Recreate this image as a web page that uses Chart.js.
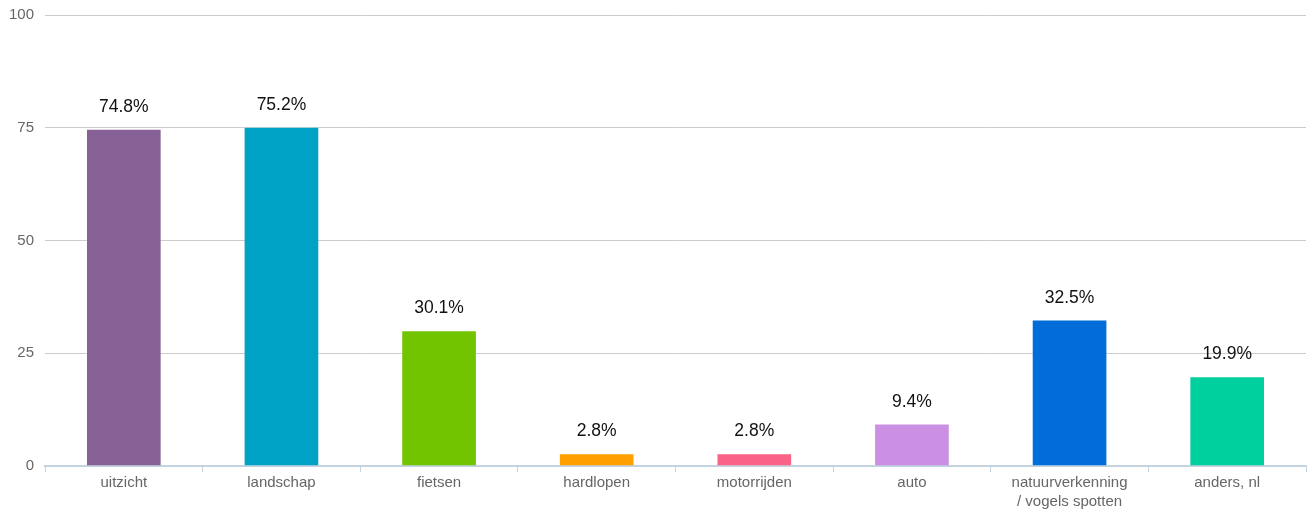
<!DOCTYPE html>
<html lang="nl">
<head>
  <meta charset="UTF-8">
  <title>Grafiek</title>
  <script src="https://cdn.jsdelivr.net/npm/chart.js"></script>
  <style>
    html, body {
      margin: 0;
      padding: 0;
      background: #ffffff;
    }

    .grafiek {
      width: 1308px;
      height: 513px;
    }
  </style>
</head>
<body>

  <div class="grafiek">
    <canvas id="myChart"></canvas>
  </div>

<script>

  var categorias = ['uitzicht', 'landschap', 'fietsen', 'hardlopen', 'motorrijden', 'auto', ['natuurverkenning', '/ vogels spotten'], 'anders, nl'];
  var valores = [74.8, 75.2, 30.1, 2.8, 2.8, 9.4, 32.5, 19.9];
  var cores = ['#876096', '#00a2c6', '#72c400', '#ff9f00', '#fa6386', '#cb90e3', '#006dd9', '#00cf9e'];
  var ticksY = [0, 25, 50, 75, 100];

  // labels com a porcentagem em cima das barras
  const rotulos = {
    id: 'rotulos',
    afterDatasetsDraw(chart) {
      const ctx = chart.ctx;
      const meta = chart.getDatasetMeta(0);
      ctx.save();
      ctx.font = '17.5px "Liberation Sans", Arial, sans-serif';
      ctx.fillStyle = '#111111';
      ctx.textAlign = 'center';
      ctx.textBaseline = 'bottom';
      meta.data.forEach(function (bar, i) {
        ctx.fillText(valores[i].toFixed(1) + '%', bar.x, bar.y - 13);
      });
      ctx.restore();
    }
  };

  const ctx = document.getElementById('myChart');

  new Chart(ctx, {
    type: 'bar',
    data: {
      labels: categorias,
      datasets: [{
        data: valores,
        backgroundColor: cores,
        borderColor: 'rgba(255,255,255,0.35)',
        borderWidth: 1,
        categoryPercentage: 1,
        barPercentage: 0.48
      }]
    },
    plugins: [rotulos],
    options: {
      responsive: true,
      maintainAspectRatio: false,
      animation: false,
      layout: {
        padding: { top: 15, right: 2, left: 0, bottom: 0 }
      },
      plugins: {
        legend: { display: false },
        tooltip: { enabled: false }
      },
      scales: {
        x: {
          offset: true,
          afterFit: function (scale) { scale.height = 47; },
          grid: {
            offset: true,
            drawOnChartArea: false,
            drawTicks: true,
            tickLength: 6,
            color: '#c3d3e0'
          },
          border: { color: '#c3d3e0', width: 2 },
          ticks: {
            color: '#666666',
            padding: 1,
            maxRotation: 0,
            autoSkip: false,
            font: { family: '"Liberation Sans", Arial, sans-serif', size: 15, lineHeight: 1.3 }
          }
        },
        y: {
          min: 0,
          max: 100,
          afterFit: function (scale) {
            scale.width = 45;
            scale.paddingTop = 0;
            scale.paddingBottom = 0;
          },
          afterBuildTicks: function (scale) {
            scale.ticks = ticksY.map(function (v) { return { value: v }; });
          },
          grid: {
            color: '#cccccc',
            drawTicks: false
          },
          border: { display: false },
          ticks: {
            color: '#666666',
            padding: 11,
            font: { family: '"Liberation Sans", Arial, sans-serif', size: 15 }
          }
        }
      }
    }
  });

</script>
</body>
</html>
